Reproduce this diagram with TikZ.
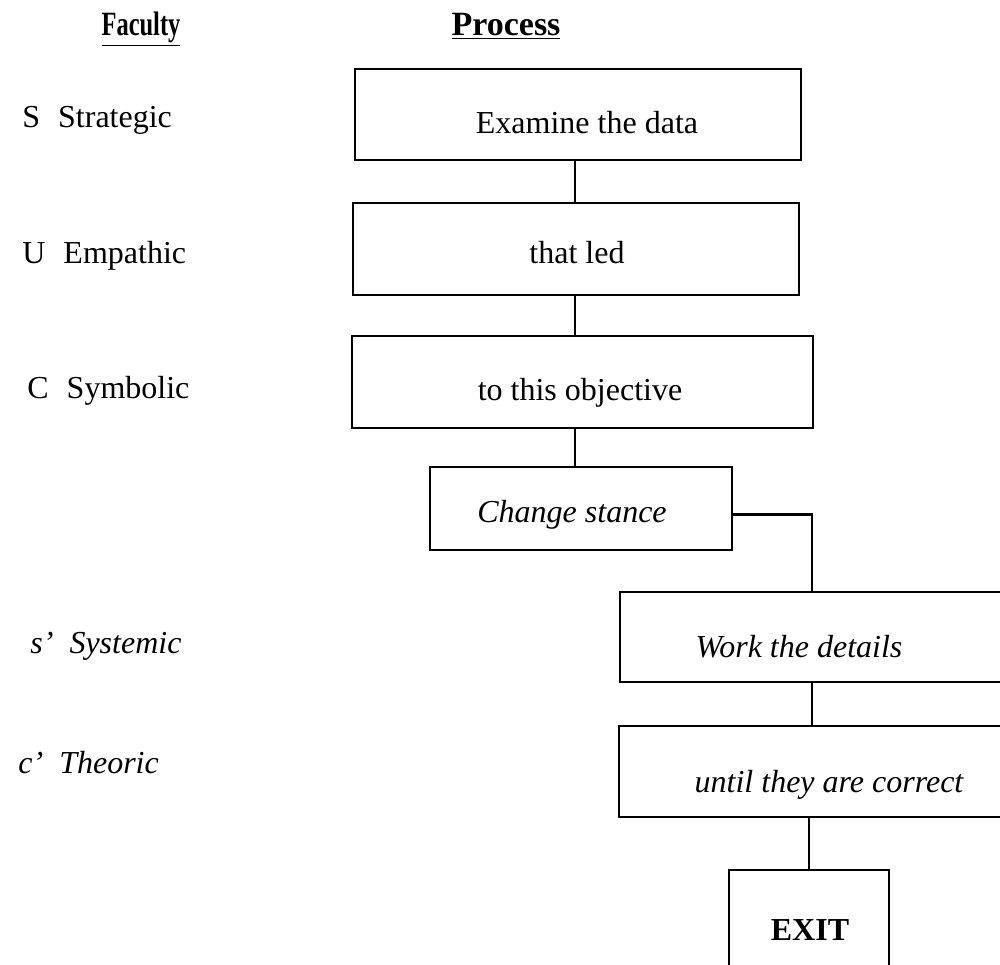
\documentclass[tikz,border=0pt]{standalone}
\usepackage{fontspec}
\setmainfont{Liberation Serif}
\begin{document}
\begin{tikzpicture}[x=0.5pt,y=-0.5pt,
  box/.style={draw, line width=1.2pt, inner sep=0pt},
  conn/.style={line width=1.2pt},
  txt/.style={inner sep=0pt, font=\fontsize{16pt}{19pt}\selectfont},
  itxt/.style={txt, font=\fontsize{16pt}{19pt}\selectfont\itshape},
  head/.style={inner sep=0pt, font=\fontsize{17pt}{20pt}\selectfont\bfseries}]
\useasboundingbox (0,0) rectangle (1000,964);
\clip (0,0) rectangle (1000,964);

% column headings (the left one is set condensed)
\node[head, anchor=base] (hfac) at (141,35) {\scalebox{0.72}[1]{\underline{Faculty}}};
\node[head, anchor=base] (hproc) at (506,35) {\underline{Process}};

% faculty labels
\node[txt, anchor=base west] (fS) at (22,127) {S\hspace{9pt}Strategic};
\node[txt, anchor=base west] (fU) at (22,263) {U\hspace{9pt}Empathic};
\node[txt, anchor=base west] (fC) at (27,398) {C\hspace{9pt}Symbolic};
\node[itxt, anchor=base west] (fs) at (30,653) {s’\hspace{8pt}Systemic};
\node[itxt, anchor=base west] (fc) at (18,773) {c’\hspace{8pt}Theoric};

% process boxes
\node[box, minimum width=223pt, minimum height=45.5pt] (b1) at (578,114.5) {};
\node[box, minimum width=223pt, minimum height=46pt] (b2) at (576,249) {};
\node[box, minimum width=230.5pt, minimum height=46pt] (b3) at (582.5,382) {};
\node[box, minimum width=151pt, minimum height=41.5pt] (cs) at (581,508.5) {};
\node[box, minimum width=192pt, minimum height=45pt] (work) at (812,637) {};
\node[box, minimum width=191.5pt, minimum height=45.5pt] (until) at (810.5,771.5) {};
\node[box, minimum width=80pt, minimum height=55pt] (exit) at (809,925) {};

% box texts
\node[txt, anchor=base] (t1) at (587,133) {Examine the data};
\node[txt, anchor=base] (t2) at (577,263) {that led};
\node[txt, anchor=base] (t3) at (580,400) {to this objective};
\node[itxt, anchor=base] (tcs) at (572,522) {Change stance};
\node[itxt, anchor=base] (twork) at (799,657) {Work the details};
\node[itxt, anchor=base] (tuntil) at (829,792) {until they are correct};
\node[txt, font=\fontsize{16pt}{19pt}\selectfont\bfseries, anchor=base] (texit) at (810,940) {EXIT};

% connectors
\coordinate (spine) at (575,0);
\draw[conn] (b1.south -| spine) -- (b2.north -| spine);
\draw[conn] (b2.south -| spine) -- (b3.north -| spine);
\draw[conn] (b3.south -| spine) -- (cs.north -| spine);
\draw[conn] ([yshift=-3pt]cs.east) -| (work.north);
\draw[conn] (work.south) -- (work.south |- until.north);
\draw[conn] (exit.north |- until.south) -- (exit.north);
\end{tikzpicture}
\end{document}
